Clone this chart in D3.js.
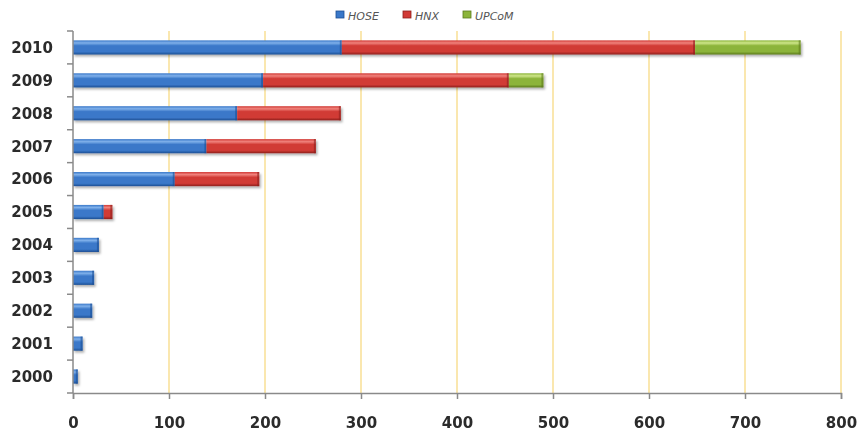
<!DOCTYPE html>
<html>
<head>
<meta charset="utf-8">
<script src="https://cdn.jsdelivr.net/npm/d3@7/dist/d3.min.js"></script>
<style>
  html, body { margin: 0; padding: 0; background: #fff; }
  svg { display: block; }
</style>
</head>
<body>
<svg id="chart" width="857" height="435"></svg>
<script>
// Listed companies per exchange, by year
const years = ["2000", "2001", "2002", "2003", "2004", "2005", "2006", "2007", "2008", "2009", "2010"];
const hose  = [5, 10, 20, 22, 27, 32, 106, 139, 171, 198, 280];
const hnx   = [0, 0, 0, 0, 0, 9, 88, 114, 108, 256, 368];
const upcom = [0, 0, 0, 0, 0, 0, 0, 0, 0, 36, 110];
const seriesNames = ["HOSE", "HNX", "UPCoM"];
const xTicks = [0, 100, 200, 300, 400, 500, 600, 700, 800];

const colors = {
  HOSE:  { dark: "#1d4f94", base: "#3a78c9", light: "#7fb0ea" },
  HNX:   { dark: "#8e1f1c", base: "#d13a35", light: "#f0827c" },
  UPCoM: { dark: "#5b7a1c", base: "#8cb43a", light: "#cfe68a" }
};

const rows = years.map((y, i) => ({ year: y, HOSE: hose[i], HNX: hnx[i], UPCoM: upcom[i] }));
const stacked = d3.stack().keys(seriesNames)(rows);

const svg = d3.select("#chart");
const plotLeft = 73, plotRight = 841, plotTop = 31, plotBottom = 393;

const x = d3.scaleLinear().domain([0, 800]).range([plotLeft, plotRight]);
const y = d3.scaleBand().domain(years.slice().reverse()).range([plotTop, plotBottom]).paddingInner(0.57).paddingOuter(0.285);

const defs = svg.append("defs");
seriesNames.forEach(k => {
  const c = colors[k];
  const g = defs.append("linearGradient").attr("id", "grad-" + k)
    .attr("x1", 0).attr("y1", 0).attr("x2", 0).attr("y2", 1);
  g.append("stop").attr("offset", "0%").attr("stop-color", c.base);
  g.append("stop").attr("offset", "18%").attr("stop-color", c.light);
  g.append("stop").attr("offset", "38%").attr("stop-color", c.base);
  g.append("stop").attr("offset", "80%").attr("stop-color", c.base);
  g.append("stop").attr("offset", "100%").attr("stop-color", c.dark);
});
const shadow = defs.append("filter").attr("id", "shadow").attr("x", "-5%").attr("y", "-30%").attr("width", "115%").attr("height", "190%");
shadow.append("feDropShadow").attr("dx", 1.5).attr("dy", 2).attr("stdDeviation", 1.2).attr("flood-color", "#000").attr("flood-opacity", 0.3);

// Vertical grid lines
svg.append("g").selectAll("line").data(xTicks.filter(t => t > 0)).join("line")
  .attr("x1", d => x(d)).attr("x2", d => x(d))
  .attr("y1", plotTop).attr("y2", plotBottom)
  .attr("stroke", "#f9df95").attr("stroke-width", 1.5);

// Stacked bars
const barG = svg.append("g").attr("filter", "url(#shadow)");
stacked.forEach(s => {
  barG.append("g").selectAll("rect").data(s.filter(d => d[1] - d[0] > 0)).join("rect")
    .attr("x", d => x(d[0]))
    .attr("y", d => y(d.data.year))
    .attr("width", d => x(d[1]) - x(d[0]))
    .attr("height", y.bandwidth())
    .attr("fill", "url(#grad-" + s.key + ")");
  // darker bevel at each segment's right end
  barG.append("g").selectAll("rect").data(s.filter(d => d[1] - d[0] > 0)).join("rect")
    .attr("x", d => x(d[1]) - 2)
    .attr("y", d => y(d.data.year))
    .attr("width", 2)
    .attr("height", y.bandwidth())
    .attr("fill", colors[s.key].dark)
    .attr("opacity", 0.6);
});

// Y axis
const yAxis = svg.append("g").attr("transform", `translate(${plotLeft},0)`);
yAxis.append("line").attr("x1", 0).attr("x2", 0).attr("y1", plotTop).attr("y2", plotBottom).attr("stroke", "#8a8a8a").attr("stroke-width", 1.5);
const bounds = d3.range(years.length + 1).map(i => plotTop + i * (plotBottom - plotTop) / years.length);
yAxis.selectAll("line.tick").data(bounds).join("line").attr("class", "tick")
  .attr("x1", -6).attr("x2", 0).attr("y1", d => d).attr("y2", d => d)
  .attr("stroke", "#8a8a8a").attr("stroke-width", 1.5);
yAxis.selectAll("text").data(years).join("text")
  .attr("x", -20).attr("y", d => y(d) + y.bandwidth() / 2)
  .attr("dy", "0.36em").attr("text-anchor", "end")
  .attr("font-family", "Verdana, 'DejaVu Sans', sans-serif").attr("font-weight", "bold").attr("font-size", 15)
  .attr("fill", "#2b2b2b").text(d => d);

// X axis
const xAxis = svg.append("g").attr("transform", `translate(0,${plotBottom})`)
  .call(d3.axisBottom(x).tickValues(xTicks).tickSize(6).tickPadding(18));
xAxis.select(".domain").attr("stroke", "#8a8a8a").attr("stroke-width", 1.5);
xAxis.selectAll(".tick line").attr("stroke", "#8a8a8a").attr("stroke-width", 1.5);
xAxis.selectAll(".tick text")
  .attr("font-family", "Verdana, 'DejaVu Sans', sans-serif").attr("font-weight", "bold").attr("font-size", 15)
  .attr("fill", "#2b2b2b");

// Legend
const legendX = [336, 403, 463];
const legend = svg.append("g");
seriesNames.forEach((k, i) => {
  const g = legend.append("g").attr("transform", `translate(${legendX[i]},16)`);
  g.append("rect").attr("x", 0).attr("y", -5).attr("width", 8).attr("height", 7)
    .attr("fill", colors[k].base).attr("stroke", colors[k].dark).attr("stroke-width", 0.8);
  g.append("text").attr("x", 12).attr("y", 0).attr("dy", "0.33em")
    .attr("font-family", "Verdana, 'DejaVu Sans', sans-serif").attr("font-style", "italic").attr("font-size", 11)
    .attr("fill", "#555").text(k);
});
</script>
</body>
</html>
